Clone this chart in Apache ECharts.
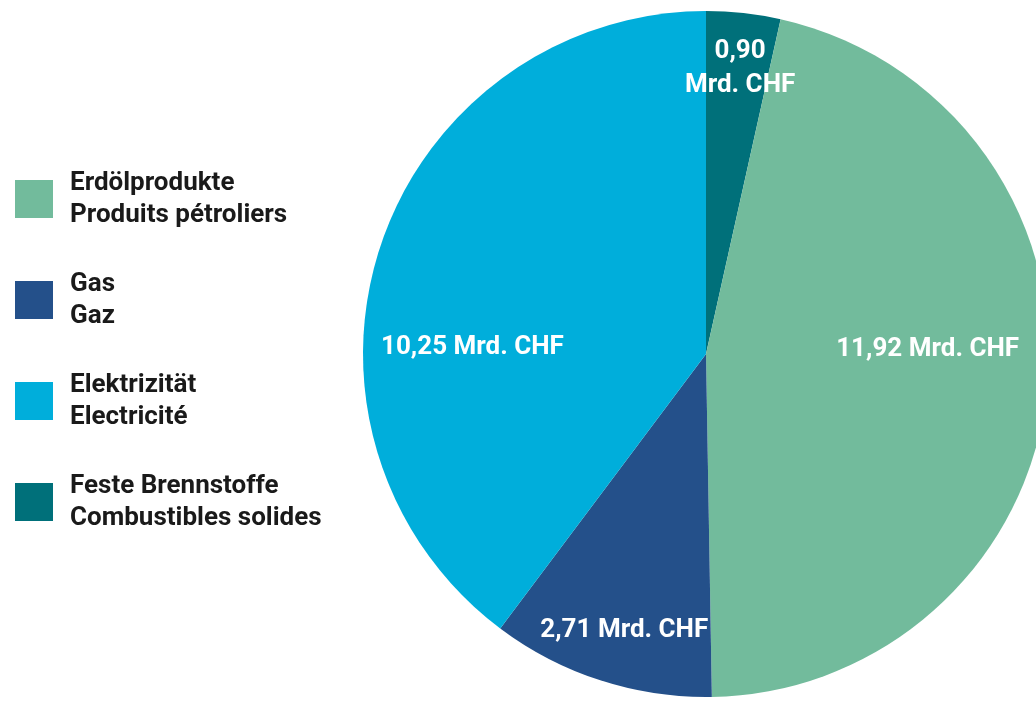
<!DOCTYPE html>
<html>
<head>
<meta charset="utf-8">
<script src="https://cdn.jsdelivr.net/npm/echarts@6/dist/echarts.min.js"></script>
<style>
  html, body { margin: 0; padding: 0; background: #fff; }
  #chart { width: 1036px; height: 702px; }
</style>
</head>
<body>
<div id="chart"></div>
<script>
// slices in drawing order, clockwise from 12 o'clock
const namesDe = ['Feste Brennstoffe', 'Erdölprodukte', 'Gas', 'Elektrizität'];
const namesFr = ['Combustibles solides', 'Produits pétroliers', 'Gaz', 'Electricité'];
const valuesMrd = [0.90, 11.92, 2.71, 10.25];
const legendOrder = ['Erdölprodukte', 'Gas', 'Elektrizität', 'Feste Brennstoffe'];

const colors = ['#00707A', '#72BB9C', '#24508A', '#00AEDB'];
// label nudges away from the default inside position
const labelShift = [[15, -112], [48, -22], [-28, 110], [-68, 49]];

const FONT = "'Roboto', sans-serif";

function fmt(v) {
    return v.toFixed(2).replace('.', ',');
}

let chart = echarts.init(document.getElementById('chart'));
let option = {
    animation: false,
    color: colors,
    legend: {
        orient: 'vertical',
        left: 15,
        top: 167,
        padding: 0,
        itemWidth: 38,
        itemHeight: 38,
        itemGap: 37,
        icon: 'rect',
        data: legendOrder,
        formatter: function (name) {
            return name + '\n' + namesFr[namesDe.indexOf(name)];
        },
        textStyle: {
            fontFamily: FONT,
            fontWeight: 'bold',
            fontSize: 26,
            lineHeight: 32,
            color: '#1a1a1a',
            padding: [0, 0, 0, 12]
        }
    },
    series: [{
        type: 'pie',
        center: [706, 354],
        radius: 343,
        startAngle: 90,
        clockwise: true,
        avoidLabelOverlap: false,
        data: namesDe.map(function (n, i) {
            return { name: n, value: valuesMrd[i] };
        }),
        label: {
            position: 'inside',
            color: '#fff',
            fontFamily: FONT,
            fontWeight: 'bold',
            fontSize: 26,
            lineHeight: 34,
            formatter: function (p) {
                if (p.dataIndex === 0) return fmt(p.value) + '\nMrd. CHF';
                return fmt(p.value) + ' Mrd. CHF';
            }
        },
        labelLayout: function (p) {
            return { dx: labelShift[p.dataIndex][0], dy: labelShift[p.dataIndex][1] };
        },
        labelLine: { show: false },
        itemStyle: { borderWidth: 0 },
        emphasis: { disabled: true }
    }]
};
chart.setOption(option);
</script>
</body>
</html>
